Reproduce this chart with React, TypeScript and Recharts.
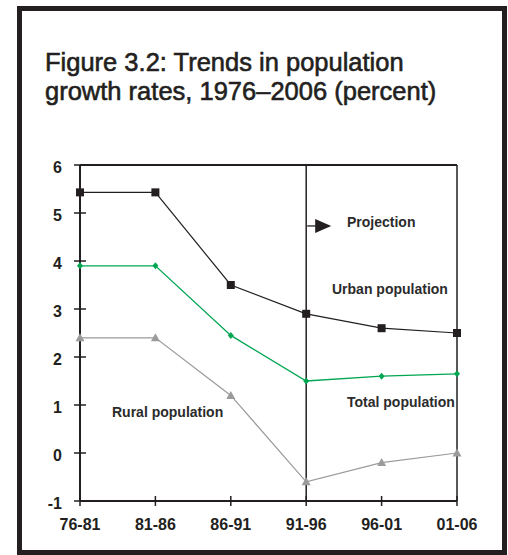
import { LineChart, Line, XAxis, YAxis, ReferenceLine, ReferenceDot } from 'recharts'

const periods = ['76-81', '81-86', '86-91', '91-96', '96-01', '01-06']
const urbanRates = [5.43, 5.43, 3.5, 2.9, 2.6, 2.5]
const totalRates = [3.9, 3.9, 2.45, 1.5, 1.6, 1.65]
const ruralRates = [2.4, 2.4, 1.2, -0.6, -0.2, 0.0]
const yTicks = [-1, 0, 1, 2, 3, 4, 5, 6]

const INK = '#231f20'
const GREEN = '#00a651'
const GREY = '#9b9b9b'
const FONT = '"Liberation Sans", Arial, sans-serif'

const data = periods.map((period, i) => ({
  period,
  urban: urbanRates[i],
  total: totalRates[i],
  rural: ruralRates[i],
}))

// ticks cross the axis line, so draw them by hand
const YTick = ({ x, y, payload }: any) => (
  <g>
    <line x1={x + 12} x2={x + 24} y1={y} y2={y} stroke={INK} strokeWidth={1.5} />
    <text x={x} y={y} dy={8} textAnchor="end" fontSize={16} fontWeight={700} fill={INK} fontFamily={FONT}>
      {payload.value}
    </text>
  </g>
)

const XTick = ({ x, y, payload }: any) => (
  <g>
    <line x1={x} x2={x} y1={y - 20} y2={y - 10} stroke={INK} strokeWidth={1.5} />
    <text x={x} y={y} dy={14} textAnchor="middle" fontSize={16} fontWeight={700} fill={INK} fontFamily={FONT}>
      {payload.value}
    </text>
  </g>
)

const SquareDot = ({ cx, cy, index }: any) => (
  <rect key={`u${index}`} x={cx - 4} y={cy - 4} width={8} height={8} fill={INK} />
)

const DiamondDot = ({ cx, cy, index }: any) => (
  <path key={`t${index}`} d={`M${cx},${cy - 3.5} L${cx + 3},${cy} L${cx},${cy + 3.5} L${cx - 3},${cy} Z`} fill={GREEN} />
)

const TriangleDot = ({ cx, cy, index }: any) => (
  <path key={`r${index}`} d={`M${cx},${cy - 4.5} L${cx + 4.5},${cy + 3.5} L${cx - 4.5},${cy + 3.5} Z`} fill={GREY} />
)

// small arrow pointing into the projection period
const ProjectionArrow = ({ cx, cy }: any) => (
  <g>
    <line x1={cx + 1} x2={cx + 10} y1={cy} y2={cy} stroke={INK} strokeWidth={1.3} />
    <path d={`M${cx + 9},${cy - 7} L${cx + 25},${cy} L${cx + 9},${cy + 7} Z`} fill={INK} />
  </g>
)

const labelStyle = (left: number, top: number): React.CSSProperties => ({
  position: 'absolute',
  left,
  top,
  fontFamily: FONT,
  fontSize: 14,
  fontWeight: 700,
  lineHeight: '14px',
  color: '#2b2b2b',
  whiteSpace: 'nowrap',
})

export default function App() {
  return (
    <div style={{ position: 'absolute', left: 0, top: 0, width: 508, height: 555, background: '#fff', overflow: 'hidden' }}>
      <div
        style={{
          position: 'absolute',
          left: 17,
          top: 6,
          width: 490,
          height: 549,
          border: `5px solid ${INK}`,
          boxSizing: 'border-box',
        }}
      />
      <div
        style={{
          position: 'absolute',
          left: 45,
          top: 48,
          fontFamily: FONT,
          fontSize: 25.5,
          lineHeight: '29px',
          color: INK,
          WebkitTextStroke: `0.6px ${INK}`,
        }}
      >
        Figure 3.2: Trends in population
        <br />
        growth rates, 1976–2006 (percent)
      </div>

      <div style={{ position: 'absolute', left: 0, top: 0 }}>
        <LineChart width={508} height={555} data={data} margin={{ top: 165, right: 51, bottom: 24, left: 40 }}>
          <XAxis
            dataKey="period"
            scale="point"
            padding={{ left: 0, right: 0 }}
            height={30}
            tickSize={5}
            tickMargin={10}
            tickLine={false}
            tick={<XTick />}
            axisLine={{ stroke: INK, strokeWidth: 2 }}
          />
          <YAxis
            domain={[-1, 6]}
            ticks={yTicks}
            width={40}
            tickSize={6}
            tickMargin={12}
            tickLine={false}
            tick={<YTick />}
            axisLine={{ stroke: INK, strokeWidth: 2 }}
          />
          <ReferenceLine y={6} stroke={INK} strokeWidth={2} />
          <ReferenceLine x="01-06" stroke={INK} strokeWidth={1.5} />
          <ReferenceLine x="91-96" stroke={INK} strokeWidth={1.5} />
          <ReferenceDot x="91-96" y={4.73} r={0} shape={<ProjectionArrow />} />

          <Line dataKey="rural" stroke={GREY} strokeWidth={1.2} dot={<TriangleDot />} isAnimationActive={false} />
          <Line dataKey="total" stroke={GREEN} strokeWidth={1.3} dot={<DiamondDot />} isAnimationActive={false} />
          <Line dataKey="urban" stroke={INK} strokeWidth={1.2} dot={<SquareDot />} isAnimationActive={false} />
        </LineChart>
      </div>

      <div style={labelStyle(347, 215)}>Projection</div>
      <div style={labelStyle(332, 282)}>Urban population</div>
      <div style={labelStyle(347, 394.5)}>Total population</div>
      <div style={labelStyle(112, 404.5)}>Rural population</div>
    </div>
  )
}
